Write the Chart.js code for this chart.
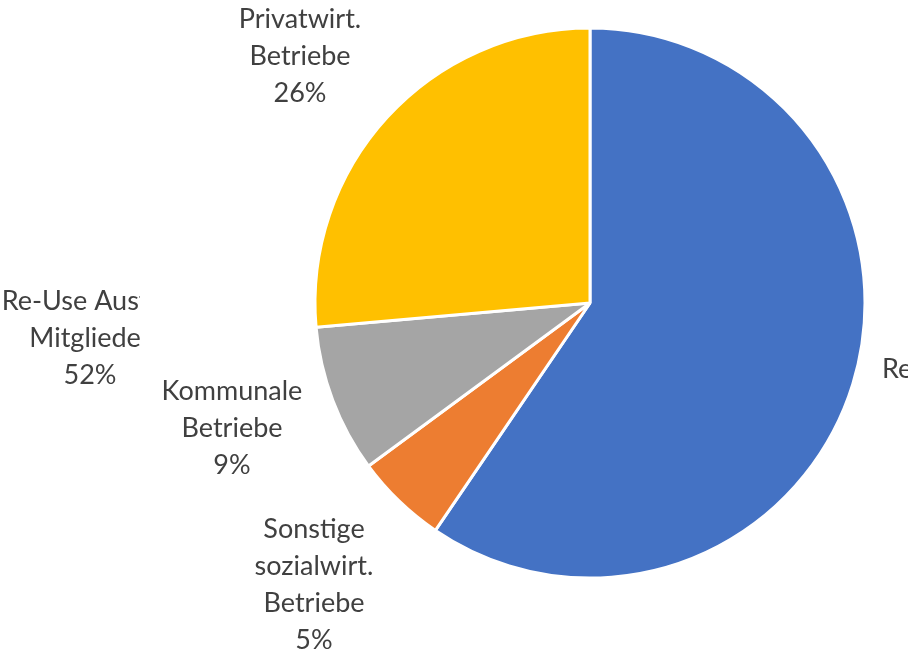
<!DOCTYPE html>
<html>
<head>
<meta charset="utf-8">
<script src="https://cdn.jsdelivr.net/npm/chart.js@4.4.1/dist/chart.umd.min.js"></script>
<style>
  html, body { margin: 0; padding: 0; background: #ffffff; }
  #wrap { position: relative; width: 922px; height: 655px; }
</style>
</head>
<body>
<div id="wrap"><canvas id="c"></canvas></div>
<script>
// ---- data ----
const categories = [
  "Re-Use Austria Mitglieder",
  "Sonstige sozialwirt. Betriebe",
  "Kommunale Betriebe",
  "Privatwirt. Betriebe"
];
const shares = [59.5, 5.4, 8.7, 26.4];
const percentLabels = ["52%", "5%", "9%", "26%"];
const labelLines = [
  ["Re-Use Austria", "Mitglieder", "52%"],
  ["Sonstige", "sozialwirt.", "Betriebe", "5%"],
  ["Kommunale", "Betriebe", "9%"],
  ["Privatwirt.", "Betriebe", "26%"]
];
const colors = ["#4472C4", "#ED7D31", "#A5A5A5", "#FFC000"];

// label placement (centre x, first baseline y) – text annotations
const labelPos = [
  { x: 90, y: 310, clip: [0, 0, 140, 655] },
  { x: 314, y: 538 },
  { x: 232, y: 400 },
  { x: 300, y: 28 }
];
const FONT = '27px Lato';
const LINE_H = 37;

const labelPlugin = {
  id: 'excelLabels',
  afterDraw(chart) {
    const ctx = chart.ctx;
    ctx.save();
    ctx.font = FONT;
    ctx.fillStyle = '#404040';
    ctx.textAlign = 'center';
    ctx.textBaseline = 'alphabetic';
    labelLines.forEach((lines, i) => {
      const p = labelPos[i];
      ctx.save();
      if (p.clip) {
        ctx.beginPath();
        ctx.rect(p.clip[0], p.clip[1], p.clip[2], p.clip[3]);
        ctx.clip();
      }
      lines.forEach((t, j) => ctx.fillText(t, p.x, p.y + j * LINE_H));
      ctx.restore();
    });
    // clipped label on the right edge
    ctx.save();
    ctx.beginPath();
    ctx.rect(0, 0, 908, 655);
    ctx.clip();
    ctx.textAlign = 'left';
    ctx.fillText(categories[0] + " " + percentLabels[0], 882, 378);
    ctx.restore();
    ctx.restore();
  }
};

new Chart(document.getElementById('c'), {
  type: 'pie',
  data: {
    labels: categories,
    datasets: [{
      data: shares,
      backgroundColor: colors,
      borderColor: '#ffffff',
      borderWidth: 3,
      hoverBorderWidth: 3,
      hoverOffset: 0
    }]
  },
  options: {
    responsive: true,
    maintainAspectRatio: false,
    animation: false,
    layout: { padding: { left: 313.5, right: 55.5, top: 26.5, bottom: 75.5 } },
    plugins: {
      legend: { display: false },
      tooltip: { enabled: false }
    }
  },
  plugins: [labelPlugin]
});
</script>
</body>
</html>
